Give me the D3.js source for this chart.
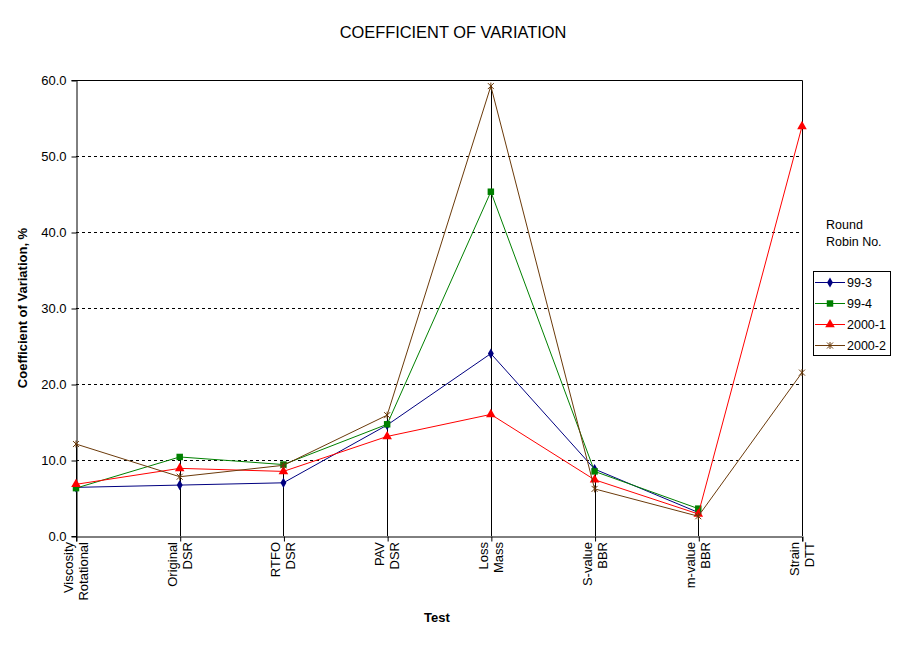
<!DOCTYPE html>
<html>
<head>
<meta charset="utf-8">
<script src="https://cdn.jsdelivr.net/npm/d3@7"></script>
<style>
body{margin:0;background:#fff;}
text{font-family:"Liberation Sans",Arial,sans-serif;}
</style>
</head>
<body>
<div id="chart"></div>
<script>
// tests along the x axis, two lines each (first line is the left one when rotated)
const categories = [
    ["Viscosity","Rotational"],
    ["Original","DSR"],
    ["RTFO","DSR"],
    ["PAV","DSR"],
    ["Loss","Mass"],
    ["S-value","BBR"],
    ["m-value","BBR"],
    ["Strain","DTT"]
];
const series_names = ["99-3","99-4","2000-1","2000-2"];
const v99_3  = [6.4, 6.7, 7.0, 14.6, 24.0, 8.8, 3.1, null];
const v99_4  = [6.3, 10.4, 9.4, 14.7, 45.3, 8.5, 3.6, null];
const v2000_1 = [6.8, 8.9, 8.5, 13.1, 16.0, 7.4, 2.9, 53.9];
const v2000_2 = [12.1, 7.8, 9.3, 15.9, 59.2, 6.2, 2.6, 21.5];
const y_ticks = [0,10,20,30,40,50,60];

const series = [
    {name:series_names[0], values:v99_3,  color:"#000080", symbol:d3.symbolDiamond, size:30},
    {name:series_names[1], values:v99_4,  color:"#008000", symbol:d3.symbolSquare,  size:42},
    {name:series_names[2], values:v2000_1,color:"#ff0000", symbol:d3.symbolTriangle,size:40},
    {name:series_names[3], values:v2000_2,color:"#6b3a0a", symbol:"star",          size:0}
];

var W = 907, H = 645;
var margin = {top: 80, right: 105, bottom: 109, left: 76};
var width = W - margin.left - margin.right;
var height = H - margin.top - margin.bottom;

let svg = d3.select("#chart").append("svg")
    .attr("width", W)
    .attr("height", H);

let x = d3.scalePoint().domain(d3.range(categories.length)).range([0, width]);
let y = d3.scaleLinear().domain([0, 60]).range([height, 0]);

let g = svg.append("g")
    .attr("transform", "translate(" + margin.left + "," + margin.top + ")");

// dashed gridlines
g.selectAll(".grid").data(y_ticks.filter(t => t > 0 && t < 60))
    .enter().append("line")
    .attr("x1", 0).attr("x2", width)
    .attr("y1", d => Math.round(y(d)) + 0.5).attr("y2", d => Math.round(y(d)) + 0.5)
    .attr("stroke", "#000").attr("stroke-dasharray", "3,3");

// plot border (top + right)
g.append("path")
    .attr("d", "M0.5,0.5H" + (width + 0.5) + "V" + height)
    .attr("fill", "none").attr("stroke", "#000");

// drop lines from highest value
g.selectAll(".drop").data(d3.range(categories.length))
    .enter().append("line")
    .attr("x1", d => Math.round(x(d)) + 0.5).attr("x2", d => Math.round(x(d)) + 0.5)
    .attr("y1", d => y(d3.max(series, s => s.values[d])))
    .attr("y2", height)
    .attr("stroke", "#000");

// y axis
let y_axis = g.append("g")
    .attr("transform", "translate(0.5,0)")
    .call(d3.axisLeft(y).tickValues(y_ticks).tickFormat(d3.format(".1f")).tickSize(5).tickPadding(5));
y_axis.select(".domain").attr("stroke", "#000");
y_axis.selectAll("text").attr("font-size", 13).attr("fill", "#000")
    .style("font-family", "'Liberation Sans',Arial,sans-serif");
y_axis.selectAll(".tick line").attr("transform", "translate(0,0.5)");

// x axis
let x_axis = g.append("g")
    .attr("transform", "translate(0," + (height + 0.5) + ")")
    .call(d3.axisBottom(x).tickSize(5).tickFormat(""));
x_axis.select(".domain").attr("stroke", "#000");
x_axis.selectAll(".tick line").attr("transform", "translate(0.5,0)");

let xl = g.selectAll(".xlab").data(categories).enter().append("text")
    .attr("transform", (d, i) => "translate(" + x(i) + "," + (height + 6) + ") rotate(-90)")
    .attr("text-anchor", "end")
    .attr("font-size", 13);
xl.append("tspan").attr("x", 0).attr("y", -3).text(d => d[0]);
xl.append("tspan").attr("x", 0).attr("y", 12).text(d => d[1]);

// series lines
let line = d3.line()
    .defined(d => d != null)
    .x((d, i) => x(i))
    .y(d => y(d));

function marker(sel, s) {
    if (s.symbol === "star") {
        sel.append("path")
            .attr("d", "M-3,-3L3,3M-3,3L3,-3M0,-3.5V3.5")
            .attr("stroke", s.color).attr("stroke-width", 1).attr("fill", "none");
    } else {
        sel.append("path")
            .attr("d", d3.symbol().type(s.symbol).size(s.size))
            .attr("fill", s.color);
    }
}

for (let s of series) {
    g.append("path")
        .attr("d", line(s.values))
        .attr("fill", "none")
        .attr("stroke", s.color)
        .attr("stroke-width", 1);
    s.values.forEach(function(v, i) {
        if (v == null) return;
        let m = g.append("g").attr("transform", "translate(" + x(i) + "," + y(v) + ")");
        marker(m, s);
    });
}

// titles
svg.append("text").attr("x", 453).attr("y", 38).attr("text-anchor", "middle")
    .attr("font-size", 16.4).text("COEFFICIENT OF VARIATION");
svg.append("text").attr("x", 437).attr("y", 622).attr("text-anchor", "middle")
    .attr("font-size", 13).attr("font-weight", "bold").text("Test");
svg.append("text")
    .attr("transform", "translate(27,308) rotate(-90)")
    .attr("text-anchor", "middle").attr("font-size", 13).attr("font-weight", "bold")
    .text("Coefficient of Variation, %");

// legend
svg.append("text").attr("x", 826).attr("y", 229).attr("font-size", 12.5).text("Round");
svg.append("text").attr("x", 826).attr("y", 246).attr("font-size", 12.5).text("Robin No.");

let lg = svg.append("g").attr("transform", "translate(813,271)");
lg.append("rect").attr("x", 0.5).attr("y", 0.5).attr("width", 77).attr("height", 84)
    .attr("fill", "#fff").attr("stroke", "#000");
series.forEach(function(s, i) {
    let row = lg.append("g").attr("transform", "translate(0," + (11.5 + i * 21) + ")");
    row.append("line").attr("x1", 2).attr("x2", 32).attr("stroke", s.color);
    let m = row.append("g").attr("transform", "translate(17,0)");
    marker(m, s);
    row.append("text").attr("x", 34).attr("y", 4.5).attr("font-size", 12.5).text(s.name);
});
</script>
</body>
</html>
